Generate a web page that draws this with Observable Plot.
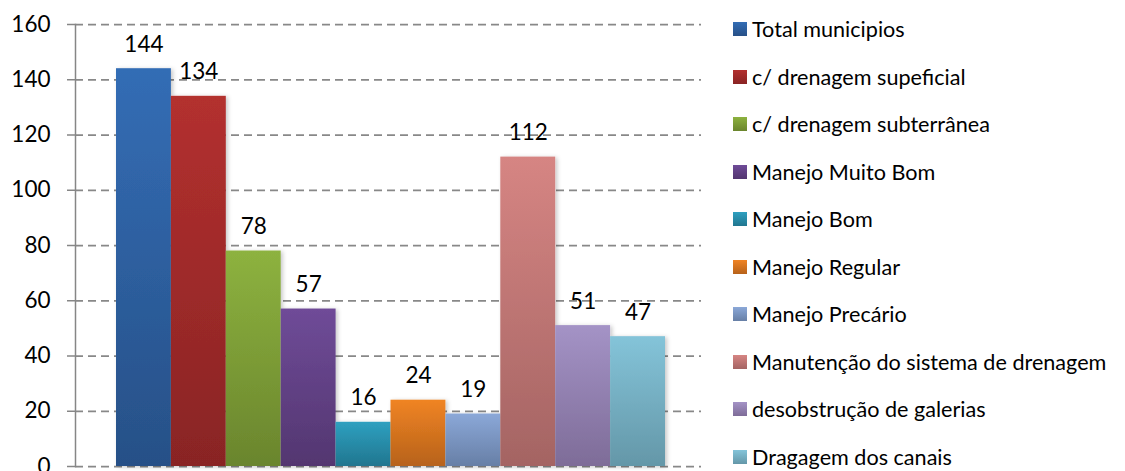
<!DOCTYPE html>
<html><head><meta charset="utf-8">
<script src="https://cdn.jsdelivr.net/npm/d3@7"></script>
<script src="https://cdn.jsdelivr.net/npm/@observablehq/plot@0.6"></script>
<style>
body{margin:0;background:#fff;}
#wrap{position:relative;width:1125px;height:471px;overflow:hidden;font-family:Lato,sans-serif;}
#legend{position:absolute;left:733px;top:0;}
.row{position:absolute;left:0;display:flex;align-items:center;height:30px;white-space:nowrap;font-size:21.6px;color:#000;}
.sw{width:14px;height:14px;margin-right:5px;flex:none;}
</style></head><body><div id="wrap"><div id="legend"></div></div>
<script>
const categories = ["Total municipios","c/ drenagem supeficial","c/ drenagem subterrânea","Manejo Muito Bom","Manejo Bom","Manejo Regular","Manejo Precário","Manutenção do sistema de drenagem","desobstrução de galerias","Dragagem dos canais"];
const values = [144,134,78,57,16,24,19,112,51,47];
const topColors = ["#336DB5","#B3302F","#8DB23F","#6F4B98","#2EA0C0","#F08424","#8BA8D8","#D68583","#A493C6","#84C4D9"];
const bottomColors = ["#275087","#892424","#6A852D","#533670","#21768F","#B7621A","#677FA6","#A46463","#7E6C98","#6497A8"];
const yTicks = [0,20,40,60,80,100,120,140,160];

const data = categories.map((c,i)=>({c, v: values[i], g:`url(#grad${i})`}));
const chart = Plot.plot({
  width:1125, height:471, marginLeft:75, marginRight:424, marginTop:24, marginBottom:5,
  style:{fontFamily:"Lato, sans-serif", fontSize:"22px", overflow:"visible", background:"transparent"},
  x:{domain:categories, range:[116,665], padding:0, round:false, axis:null},
  y:{domain:[0,160]},
  color:{type:"identity"},
  marks:[
    Plot.ruleY(yTicks, {stroke:"#888", strokeWidth:1.75, strokeDasharray:"8,5"}),
    Plot.axisY({ticks:yTicks, tickSize:8, tickPadding:17, stroke:"#868686", strokeWidth:1.5, fill:"#000", fontSize:22.5, label:null}),
    Plot.frame({anchor:"left", stroke:"#868686", strokeWidth:1.5}),
    Plot.barY(data, {x:"c", y:"v", fill:"g"}),
    Plot.text(data, {x:"c", y:"v", text:d=>String(d.v), lineAnchor:"bottom", dy:-17, fontSize:22.5, fill:"#000"})
  ]
});
const svg = d3.select(chart);
const defs = svg.insert("defs", ":first-child");
topColors.forEach((t,i)=>{
  const g = defs.append("linearGradient").attr("id","grad"+i).attr("x1",0).attr("y1",0).attr("x2",0).attr("y2",1);
  g.append("stop").attr("offset","0%").attr("stop-color",t);
  g.append("stop").attr("offset","100%").attr("stop-color",bottomColors[i]);
});
const f = defs.append("filter").attr("id","shadow").attr("x","-10%").attr("y","-10%").attr("width","130%").attr("height","130%");
f.append("feDropShadow").attr("dx",2).attr("dy",1).attr("stdDeviation",2).attr("flood-color","#000").attr("flood-opacity",0.22);
svg.selectAll("g[aria-label=bar]").attr("filter","url(#shadow)");
document.getElementById("wrap").prepend(chart);

const legend = d3.select("#legend");
categories.forEach((c,i)=>{
  const row = legend.append("div").attr("class","row").style("top", (30 + i*47.55 - 16) + "px");
  row.append("div").attr("class","sw").style("background", `linear-gradient(${topColors[i]}, ${bottomColors[i]})`);
  row.append("span").text(c);
});
</script>
</body></html>
